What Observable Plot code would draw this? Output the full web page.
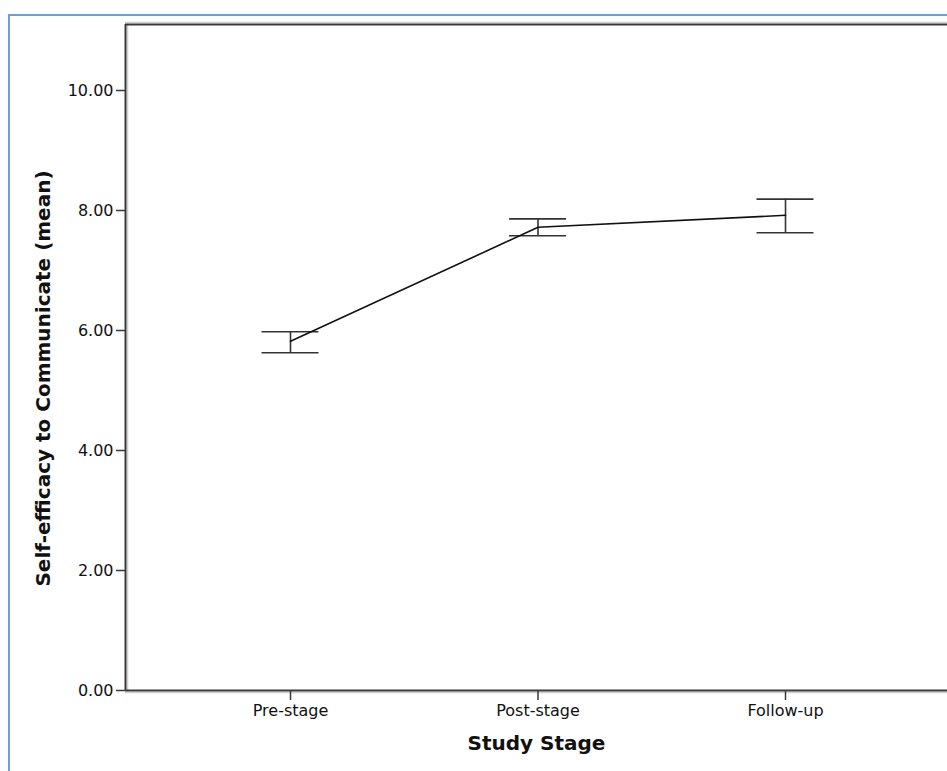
<!DOCTYPE html>
<html>
<head>
<meta charset="utf-8">
<script src="https://cdn.jsdelivr.net/npm/d3@7"></script>
<script src="https://cdn.jsdelivr.net/npm/@observablehq/plot@0.6"></script>
<style>
  html, body { margin: 0; padding: 0; background: #fff; overflow: hidden; }
  #wrap { position: relative; width: 947px; height: 771px; }
  #border { position: absolute; left: 8px; top: 14px; width: 2000px; height: 2000px;
            border-left: 2px solid #6a9fda; border-top: 2px solid #6a9fda; pointer-events: none; }
</style>
</head>
<body>
<div id="wrap"><div id="border"></div></div>
<script>
const stages = ["Pre-stage", "Post-stage", "Follow-up"];
const means = [5.82, 7.72, 7.92];
const lower = [5.63, 7.58, 7.63];
const upper = [5.98, 7.86, 8.19];
const yTicks = [0, 2, 4, 6, 8, 10];

const data = stages.map((s, i) => ({i, stage: s, mean: means[i], lo: lower[i], hi: upper[i]}));
const xDomain = [-0.6667, 2.6545];
const yDomain = [0, 11.1];
const capHalf = 0.115;
const font = "DejaVu Sans, sans-serif";
const axisColor = "#3a3a3a";

const chart = Plot.plot({
  width: 947,
  height: 771,
  marginLeft: 125,
  marginRight: 0,
  marginTop: 24,
  marginBottom: 81,
  style: {fontFamily: font, background: "transparent", overflow: "visible"},
  x: {type: "linear", domain: xDomain, axis: null},
  y: {domain: yDomain, axis: null},
  marks: [
    // frame (shadows then lines)
    Plot.ruleY([yDomain[0]], {stroke: "#cfcfcf", strokeWidth: 1.5, dy: 2}),
    Plot.ruleY([yDomain[1]], {stroke: "#cfcfcf", strokeWidth: 1.5, dy: -2}),
    Plot.ruleX([xDomain[0]], {stroke: "#cfcfcf", strokeWidth: 1.5, dx: 2}),
    Plot.ruleY([yDomain[0]], {stroke: axisColor, strokeWidth: 2}),
    Plot.ruleY([yDomain[1]], {stroke: axisColor, strokeWidth: 2}),
    Plot.ruleX([xDomain[0]], {stroke: axisColor, strokeWidth: 2}),
    // axes
    Plot.axisY(yTicks, {
      tickSize: 9, tickPadding: 3, fontSize: 16, stroke: axisColor, strokeWidth: 1.5,
      fill: "#111", tickFormat: d => d.toFixed(2), label: null
    }),
    Plot.axisX([0, 1, 2], {
      tickSize: 10, tickPadding: 4, fontSize: 16, stroke: axisColor, strokeWidth: 1.5,
      fill: "#111", tickFormat: d => stages[d], label: null
    }),
    // axis titles
    Plot.text(["Study Stage"], {
      text: d => d, frameAnchor: "bottom", textAnchor: "middle", dy: 59,
      fontSize: 20, fontWeight: "bold", fill: "#111"
    }),
    Plot.text(["Self-efficacy to Communicate (mean)"], {
      text: d => d, frameAnchor: "left", textAnchor: "middle", rotate: -90, dx: -82, dy: 21,
      fontSize: 20, fontWeight: "bold", fill: "#111"
    }),
    // error bars
    Plot.ruleX(data, {x: "i", y1: "lo", y2: "hi", stroke: "#333", strokeWidth: 1.6}),
    Plot.ruleY(data, {y: "hi", x1: d => d.i - capHalf, x2: d => d.i + capHalf, stroke: "#333", strokeWidth: 1.6}),
    Plot.ruleY(data, {y: "lo", x1: d => d.i - capHalf, x2: d => d.i + capHalf, stroke: "#333", strokeWidth: 1.6}),
    // mean line
    Plot.line(data, {x: "i", y: "mean", stroke: "#111", strokeWidth: 1.6})
  ]
});
document.getElementById("wrap").prepend(chart);
chart.style.position = "absolute";
chart.style.left = "0px";
chart.style.top = "0px";
</script>
</body>
</html>
